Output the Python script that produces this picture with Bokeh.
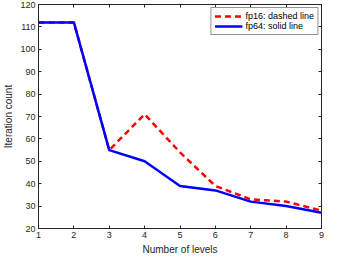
from bokeh.plotting import figure
from bokeh.models import LinearAxis, Range1d, FixedTicker, Legend, LegendItem, ColumnDataSource
from bokeh.embed import file_html
from bokeh.resources import INLINE

levels = [1, 2, 3, 4, 5, 6, 7, 8, 9]
fp16 = [112, 112, 55, 71, 54, 39, 33, 32, 28]
fp64 = [112, 112, 55, 50, 39, 37, 32, 30, 27]
x_ticks = [1, 2, 3, 4, 5, 6, 7, 8, 9]
y_ticks = [20, 30, 40, 50, 60, 70, 80, 90, 100, 110, 120]

FONT = "Liberation Sans"
AX = "#262626"

src = ColumnDataSource(dict(x=levels, fp16=fp16, fp64=fp64))

p = figure(width=324, height=257, output_backend="svg", toolbar_location=None,
           x_range=Range1d(1, 9), y_range=Range1d(20, 120),
           min_border_left=2, min_border_right=3, min_border_top=4, min_border_bottom=2)
p.xgrid.visible = False
p.ygrid.visible = False
p.outline_line_color = AX
p.outline_line_alpha = 0.8

r16 = p.line("x", "fp16", source=src, line_color="#ff0000", line_width=2.5, line_dash="6 4")
r64 = p.line("x", "fp64", source=src, line_color="#0000ff", line_width=2.5)

def style(ax, labels=True):
    ax.axis_line_color = AX
    ax.major_tick_line_color = AX
    ax.major_tick_in = 3
    ax.major_tick_out = 0
    ax.minor_tick_line_color = None
    ax.major_label_text_font = FONT
    ax.major_label_text_font_size = "9px"
    ax.major_label_text_color = AX
    ax.axis_label_text_font = FONT
    ax.axis_label_text_font_size = "10px"
    ax.axis_label_text_font_style = "normal"
    ax.axis_label_text_color = AX
    ax.major_label_standoff = 3
    ax.axis_label_standoff = 3
    if not labels:
        ax.major_label_standoff = 0

p.xaxis.ticker = FixedTicker(ticks=x_ticks)
p.yaxis.ticker = FixedTicker(ticks=y_ticks)
p.xaxis.axis_label = "Number of levels"
p.yaxis.axis_label = "Iteration count"
style(p.xaxis[0])
style(p.yaxis[0])

top = LinearAxis(ticker=FixedTicker(ticks=x_ticks),
                 major_label_overrides={t: "" for t in x_ticks})
right = LinearAxis(ticker=FixedTicker(ticks=y_ticks),
                   major_label_overrides={t: "" for t in y_ticks})
style(top, labels=False)
style(right, labels=False)
p.add_layout(top, "above")
p.add_layout(right, "right")

legend = Legend(items=[LegendItem(label="fp16: dashed line", renderers=[r16]),
                       LegendItem(label="fp64: solid line", renderers=[r64])],
                location="top_right")
legend.label_text_font = FONT
legend.label_text_font_size = "9px"
legend.label_text_color = "#000000"
legend.border_line_color = AX
legend.border_line_width = 1
legend.glyph_width = 28
legend.glyph_height = 8
legend.label_height = 8
legend.spacing = 0
legend.padding = 3
legend.margin = 3
legend.label_standoff = 3
p.add_layout(legend)

open("out.html", "w").write(file_html(p, INLINE))
